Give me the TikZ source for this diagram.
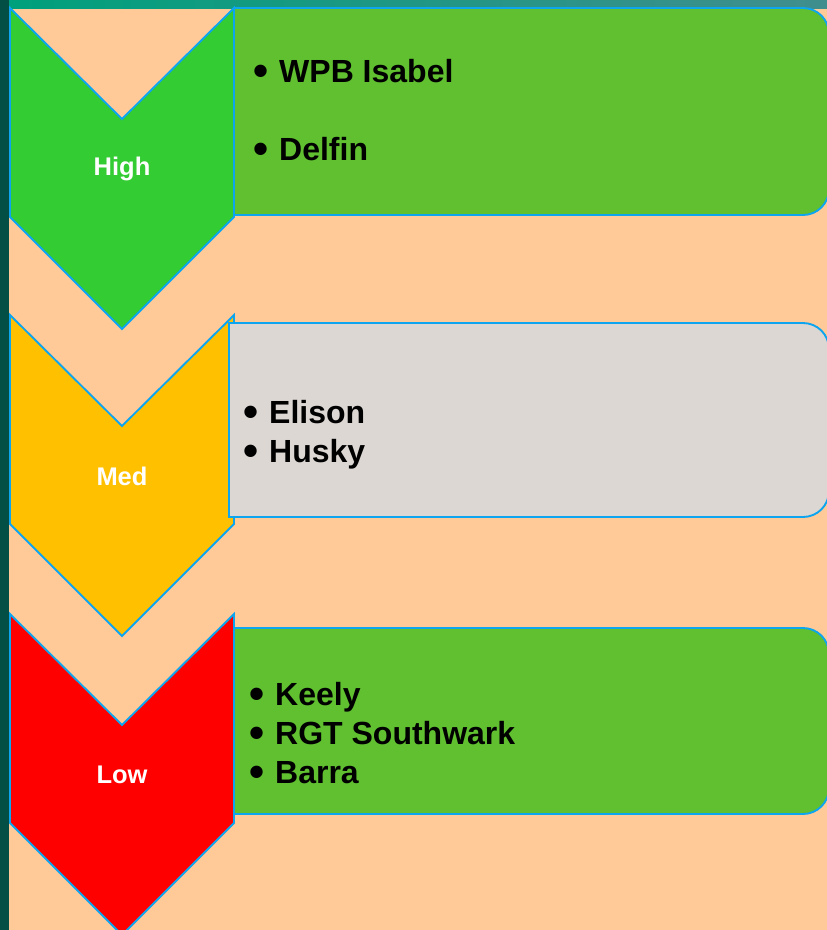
\documentclass[tikz,border=0pt]{standalone}
\usepackage{fontspec}
\setmainfont{Liberation Sans}
\usetikzlibrary{calc}
\definecolor{peach}{HTML}{FFCA97}
\definecolor{leftbar}{HTML}{034E45}
\definecolor{topbarL}{HTML}{00A07C}
\definecolor{topbarR}{HTML}{408E8E}
\definecolor{edge}{HTML}{0EA5F0}
\definecolor{highc}{HTML}{33CC33}
\definecolor{medc}{HTML}{FFC000}
\definecolor{lowc}{HTML}{FF0000}
\definecolor{boxgreen}{HTML}{60C030}
\definecolor{boxgray}{HTML}{DCD7D3}
\newcommand{\itembullet}{\llap{\raisebox{-3.6pt}{\fontsize{43}{43}\selectfont\textbullet}\hspace{11pt}}}

\begin{document}
\begin{tikzpicture}[
x=1pt, y=-1pt,
chev/.style={
  draw=edge,
  line width=1.9pt,
  line join=miter
  },
panel/.style={
  draw=edge,
  line width=1.9pt
  },
level/.style={
  anchor=base,
  inner sep=0pt,
  text=white,
  font=\fontsize{25.5}{30}\selectfont\bfseries
  },
item/.style={
  anchor=base west,
  inner sep=0pt,
  font=\fontsize{32}{38}\selectfont\bfseries
  }
]
\useasboundingbox (0,0) rectangle (827,930);
\clip (0,0) rectangle (827,930);
\fill[peach] (0,0) rectangle (827,930);
\fill[leftbar] (0,0) rectangle (9,930);
\shade[left color=topbarL, right color=topbarR] (9,0) rectangle (827,8);

% chevrons with their level labels
\foreach \top/\col/\lab/\base in {8/highc/High/175, 315/medc/Med/485, 614/lowc/Low/783}
{
  \draw[chev, fill=\col] (10,\top) -- ++(112,111) -- ++(112,-111) -- ++(0,209)
    -- ++(-112,112) -- ++(-112,-112) -- cycle;
  \node[level] (\lab) at (122,\base) {\lab};
}

% panels, rounded on the right only
\foreach \x/\ya/\yb/\col in {234/8/215/boxgreen, 229/323/517/boxgray, 234/628/814/boxgreen}
{
  \draw[panel, fill=\col] (\x,\ya) -- (803,\ya) arc[start angle=-90, end angle=0, radius=26]
    -- (829,\yb-26) arc[start angle=0, end angle=90, radius=26] -- (\x,\yb) -- cycle;
}

% items
\foreach \txt [count=\i] in {WPB Isabel, Delfin}
  \node[item] (hi\i) at (279,4+78*\i) {\itembullet\txt};
\foreach \txt [count=\i] in {Elison, Husky}
  \node[item] (md\i) at (269,384+39*\i) {\itembullet\txt};
\foreach \txt [count=\i] in {Keely, RGT Southwark, Barra}
  \node[item] (lo\i) at (275,666+39*\i) {\itembullet\txt};

\end{tikzpicture}
\end{document}
